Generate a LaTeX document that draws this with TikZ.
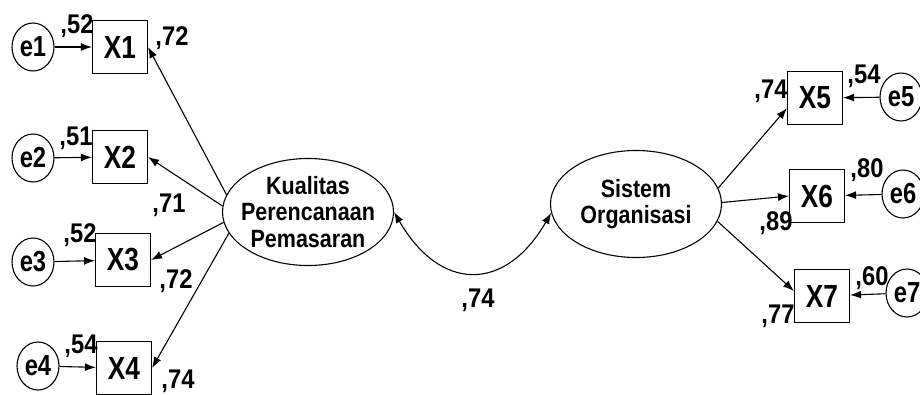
\documentclass[tikz,border=0pt]{standalone}
\usepackage{fontspec}
\setmainfont{Liberation Sans}
\newfontfamily\semfont[FakeStretch=0.88]{Liberation Sans}
\newfontfamily\semnarrow[FakeStretch=0.82]{Liberation Sans}
\newfontfamily\semwide[FakeStretch=0.86]{Liberation Sans}
\usetikzlibrary{shapes.geometric,arrows.meta}

\begin{document}
\begin{tikzpicture}[x=1pt, y=-1pt, line width=1.1pt,
    err/.style={ellipse, draw, minimum width=42pt, minimum height=48pt, inner sep=0pt,
      font=\semnarrow\fontsize{29}{31}\selectfont\bfseries},
    ind/.style={rectangle, draw, minimum width=55pt, minimum height=53pt, inner sep=0pt,
      font=\semnarrow\fontsize{32}{34}\selectfont\bfseries},
    lat/.style={ellipse, draw, minimum width=171pt, minimum height=107pt, inner xsep=-12pt,
      inner ysep=-2pt, align=center, font=\semwide\fontsize{25}{26.5}\selectfont\bfseries},
    coef/.style={anchor=base, inner sep=0pt, font=\semfont\fontsize{27}{29}\selectfont\bfseries},
    tip/.tip={Latex[length=11pt,width=8pt]},
    arr/.style={-tip}]
  \useasboundingbox (0,0) rectangle (920,394);

  % Nodes
  \node[lat] at (308,212) (kpp) {Kualitas\\Perencanaan\\Pemasaran};
  \node[lat] at (636,204) (so) {Sistem\\Organisasi};

  \node[ind] at (120,47) (x1) {X1};
  \node[ind] at (120,157) (x2) {X2};
  \node[ind] at (123,260) (x3) {X3};
  \node[ind] at (124,368) (x4) {X4};
  \node[ind] at (815,98) (x5) {X5};
  \node[ind] at (817,196) (x6) {X6};
  \node[ind] at (822,296) (x7) {X7};

  \node[err] at (33,47) (e1) {e1};
  \node[err] at (33,158) (e2) {e2};
  \node[err] at (33,262) (e3) {e3};
  \node[err] at (38,366) (e4) {e4};
  \node[err] at (901,97) (e5) {e5};
  \node[err] at (903,194) (e6) {e6};
  \node[err] at (907,293) (e7) {e7};

  % Paths
  \draw[arr] (e1) -- (x1);
  \draw[arr] (e2) -- (x2);
  \draw[arr] (e3) -- (x3);
  \draw[arr] (e4) -- (x4);
  \draw[arr] (e5) -- (x5);
  \draw[arr] (e6) -- (x6);
  \draw[arr] (e7) -- (x7);

  \draw[arr] (kpp.168) -- (x1.east);
  \draw[arr] (kpp.176) -- (x2.east);
  \draw[arr] (kpp.187) -- (x3.east);
  \draw[arr] (kpp.195) -- (x4.east);
  \draw[arr] (so.11) -- (x5.200);
  \draw[arr] (so.1) -- (x6.west);
  \draw[arr] (so.-12) -- (x7.170);

  \draw[tip-tip] (kpp.east) to[out=-60, in=-120, looseness=1.5] (so.186);

  % Estimates
  \node[coef] at (77,33) (r1) {,52};
  \node[coef] at (76,145) (r2) {,51};
  \node[coef] at (80,242) (r3) {,52};
  \node[coef] at (81,353) (r4) {,54};
  \node[coef] at (864,83) (r5) {,54};
  \node[coef] at (867,177) (r6) {,80};
  \node[coef] at (872,285) (r7) {,60};

  \node[coef] at (172,45) (w1) {,72};
  \node[coef] at (169,212) (w2) {,71};
  \node[coef] at (176,288) (w3) {,72};
  \node[coef] at (178,388) (w4) {,74};
  \node[coef] at (771,98) (w5) {,74};
  \node[coef] at (776,230) (w6) {,89};
  \node[coef] at (778,323) (w7) {,77};

  \node[coef] at (478,307) (cv) {,74};
\end{tikzpicture}
\end{document}
